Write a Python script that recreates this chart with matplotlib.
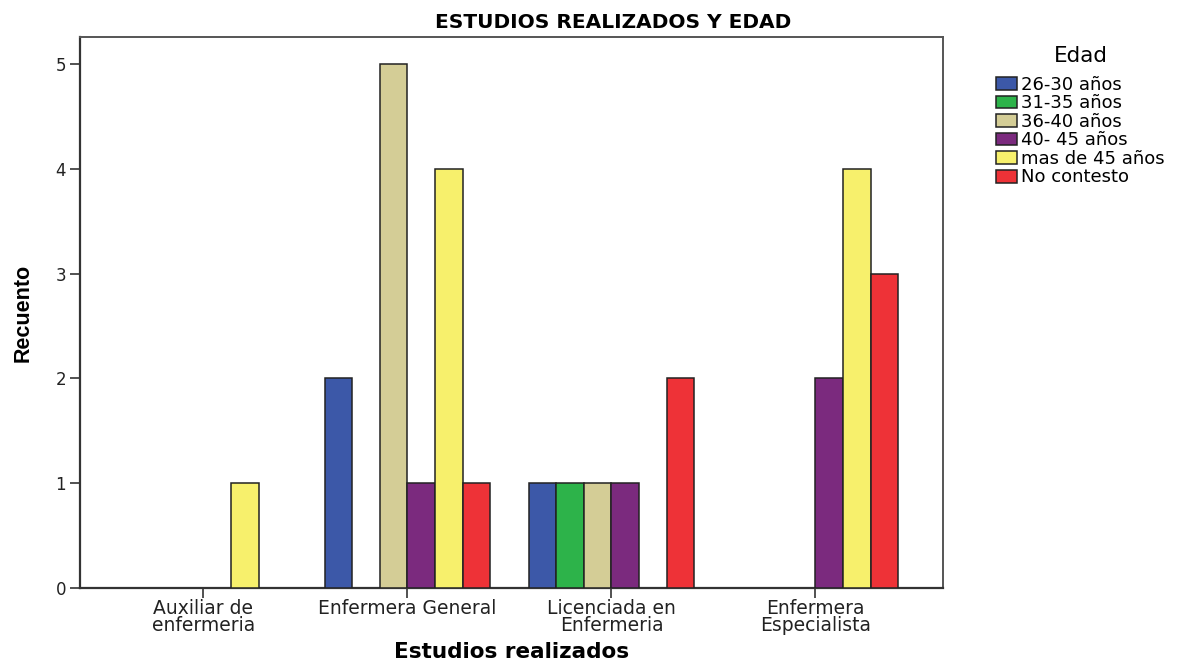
import numpy as np
import matplotlib
matplotlib.use("Agg")
import matplotlib.pyplot as plt
from matplotlib.patches import Patch

categories = ["Auxiliar de\nenfermeria", "Enfermera General",
              "Licenciada en\nEnfermeria", "Enfermera\nEspecialista"]
age_groups = ["26-30 años", "31-35 años", "36-40 años",
              "40- 45 años", "mas de 45 años", "No contesto"]
colors = ["#3c58a8", "#2db34a", "#d4cd96", "#7b2a7e", "#f7f06c", "#ee3237"]

# counts per age group, one value per category
c_26_30 = [0, 2, 1, 0]
c_31_35 = [0, 0, 1, 0]
c_36_40 = [0, 5, 1, 0]
c_40_45 = [0, 1, 1, 2]
c_45_mas = [1, 4, 0, 4]
c_no_contesto = [0, 1, 2, 3]
series = [c_26_30, c_31_35, c_36_40, c_40_45, c_45_mas, c_no_contesto]

plt.rcParams["font.family"] = ["DejaVu Sans"]

W, H = 1188, 664
fig = plt.figure(figsize=(W / 100, H / 100), dpi=100)
ax = fig.add_axes([80 / W, 1 - 588 / H, 863 / W, 551 / H])

x = np.arange(len(categories))
n = len(series)
width = 0.135
for i, (vals, col) in enumerate(zip(series, colors)):
    offs = (i - (n - 1) / 2) * width
    vals = np.asarray(vals, dtype=float)
    mask = vals > 0
    ax.bar(x[mask] + offs, vals[mask], width=width, color=col,
           edgecolor="#222222", linewidth=1.1, zorder=3)

ax.set_xlim(-0.605, 3.625)
ax.set_ylim(0, 5.26)
ax.set_yticks([0, 1, 2, 3, 4, 5])
ax.set_xticks(x)
ax.set_xticklabels(categories, fontsize=13.5, linespacing=0.88)
ax.tick_params(axis="y", labelsize=12, direction="out", length=7,
               width=1.2, pad=3, colors="#333333", labelcolor="#222222")
ax.tick_params(axis="x", direction="out", length=7, width=1.2, pad=1,
               colors="#333333", labelcolor="#222222")

for s in ["left", "bottom"]:
    ax.spines[s].set_linewidth(1.6)
    ax.spines[s].set_color("#333333")
for s in ["top", "right"]:
    ax.spines[s].set_linewidth(1.4)
    ax.spines[s].set_color("#555555")

fig.text(613 / W, 1 - 22 / H, "ESTUDIOS REALIZADOS Y EDAD",
         fontsize=14.5, fontweight="bold", ha="center", va="center")

ax.set_ylabel("Recuento", fontsize=15.5, fontweight="bold",
              family=["Liberation Sans Narrow", "Liberation Sans"])
ax.yaxis.set_label_coords((34 - 80) / 863, 0.5)

ax.set_xlabel("Estudios realizados", fontsize=15.5, fontweight="bold")
ax.xaxis.label.set_verticalalignment("baseline")
ax.xaxis.set_label_coords(0.5, (588 - 658) / 551)

handles = [Patch(facecolor=c, edgecolor="#222222", linewidth=1.1) for c in colors]
leg = fig.legend(handles, age_groups, title="Edad", loc="upper left",
                 bbox_to_anchor=(996 / W, 1 - 46 / H), frameon=False,
                 fontsize=13, title_fontsize=15.5, handlelength=1.15,
                 handleheight=0.72, handletextpad=0.25, labelspacing=0.03,
                 borderaxespad=0, borderpad=0)
leg._legend_box.align = "center"
leg._legend_box.sep = 7

fig.savefig("out.png", dpi=100)
